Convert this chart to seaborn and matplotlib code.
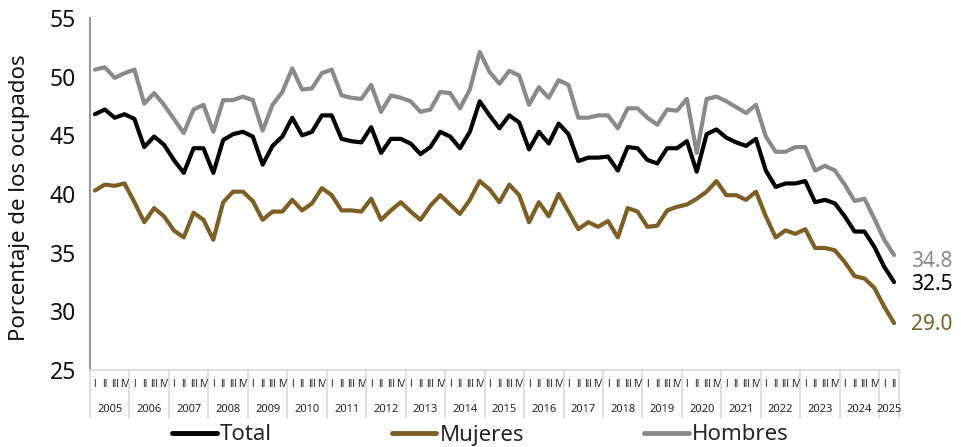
import pandas as pd
import matplotlib
matplotlib.use("Agg")
import matplotlib.pyplot as plt
import matplotlib.transforms as mtransforms
import seaborn as sns

# quarterly series, 2005 Q1 .. 2025 Q2
years = [str(y) for y in range(2005, 2026)]
quarters = ["I", "II", "III", "IV"]

total = [
    46.8, 47.2, 46.5, 46.8, 46.4, 44.0, 44.9, 44.2, 42.9, 41.8,
    43.9, 43.9, 41.8, 44.6, 45.1, 45.3, 44.9, 42.5, 44.1, 44.9,
    46.5, 45.0, 45.3, 46.7, 46.7, 44.7, 44.5, 44.4, 45.7, 43.5,
    44.7, 44.7, 44.3, 43.4, 44.0, 45.3, 44.9, 43.9, 45.3, 47.9,
    46.7, 45.6, 46.7, 46.1, 43.8, 45.3, 44.3, 46.0, 45.1, 42.8,
    43.1, 43.1, 43.2, 42.0, 44.0, 43.9, 42.9, 42.6, 43.9, 43.9,
    44.5, 41.9, 45.1, 45.5, 44.8, 44.4, 44.1, 44.7, 42.0, 40.6,
    40.9, 40.9, 41.1, 39.3, 39.5, 39.2, 38.1, 36.8, 36.8, 35.5,
    33.8, 32.5,
]
mujeres = [
    40.3, 40.8, 40.7, 40.9, 39.3, 37.6, 38.8, 38.1, 36.9, 36.3,
    38.4, 37.8, 36.1, 39.3, 40.2, 40.2, 39.4, 37.8, 38.5, 38.5,
    39.5, 38.6, 39.2, 40.5, 39.9, 38.6, 38.6, 38.5, 39.6, 37.8,
    38.6, 39.3, 38.5, 37.8, 39.0, 39.9, 39.1, 38.3, 39.5, 41.1,
    40.4, 39.3, 40.8, 39.9, 37.6, 39.3, 38.1, 40.0, 38.5, 37.0,
    37.6, 37.2, 37.7, 36.3, 38.8, 38.5, 37.2, 37.3, 38.6, 38.9,
    39.1, 39.6, 40.2, 41.1, 39.9, 39.9, 39.5, 40.2, 38.1, 36.3,
    36.9, 36.6, 37.0, 35.4, 35.4, 35.2, 34.2, 33.0, 32.8, 32.0,
    30.4, 29.0,
]
hombres = [
    50.6, 50.8, 49.9, 50.3, 50.6, 47.7, 48.6, 47.6, 46.4, 45.2,
    47.2, 47.6, 45.3, 48.0, 48.0, 48.3, 48.0, 45.4, 47.6, 48.7,
    50.7, 48.9, 49.0, 50.3, 50.6, 48.4, 48.2, 48.1, 49.3, 47.0,
    48.4, 48.2, 47.9, 47.0, 47.2, 48.7, 48.6, 47.3, 48.9, 52.1,
    50.4, 49.4, 50.5, 50.1, 47.6, 49.1, 48.2, 49.7, 49.3, 46.5,
    46.5, 46.7, 46.7, 45.6, 47.3, 47.3, 46.5, 45.9, 47.2, 47.1,
    48.1, 43.5, 48.1, 48.3, 47.9, 47.4, 46.9, 47.6, 44.9, 43.6,
    43.6, 44.0, 44.0, 42.0, 42.4, 42.0, 40.8, 39.4, 39.6, 37.9,
    36.1, 34.8,
]

series_names = ["Total", "Mujeres", "Hombres"]
colors = {"Total": "#000000", "Mujeres": "#7d5f23", "Hombres": "#8a8a8a"}

n = len(total)
quarter_labels = [quarters[i % 4] for i in range(n)]

df = pd.DataFrame({
    "idx": list(range(n)) * 3,
    "valor": total + mujeres + hombres,
    "serie": ["Total"] * n + ["Mujeres"] * n + ["Hombres"] * n,
})

sns.set_theme(style="white")
plt.rcParams["font.family"] = ["Noto Sans", "DejaVu Sans"]

fig = plt.figure(figsize=(9.61, 4.47), dpi=100)
ax = fig.add_axes([90 / 961, 77 / 447, 809 / 961, 352 / 447])

sns.lineplot(data=df, x="idx", y="valor", hue="serie", hue_order=series_names,
             palette=colors, linewidth=3, ax=ax)

ax.set_xlim(-0.5, n - 0.5)
ax.set_ylim(25, 55)
ax.set_yticks([25, 30, 35, 40, 45, 50, 55])
ax.tick_params(axis="y", labelsize=16.5, length=0, pad=10, labelcolor="#111111")
ax.set_xticks([])
ax.set_xlabel("")
ax.set_ylabel("Porcentaje de los ocupados", fontsize=16, color="#111111")
ax.yaxis.set_label_coords(-60 / 809, 0.49)

for side in ["top", "right"]:
    ax.spines[side].set_visible(False)
ax.spines["left"].set_color("#9a9a9a")
ax.spines["left"].set_linewidth(1.5)
ax.spines["bottom"].set_color("#d9d9d9")
ax.spines["bottom"].set_linewidth(1.2)

# two-level category axis: quarters and years
trans = mtransforms.blended_transform_factory(ax.transData, ax.transAxes)
for i, q in enumerate(quarter_labels):
    ax.text(i, -0.04, q, transform=trans, ha="center", va="center",
            fontsize=7, color="#262626", family="Liberation Sans")
seps = list(range(0, n, 4)) + [n]
for s in seps:
    ax.plot([s - 0.5, s - 0.5], [0, -0.135], transform=trans, color="#d9d9d9",
            linewidth=1.2, clip_on=False)
for k, y in enumerate(years):
    start = k * 4
    end = min(start + 4, n)
    ax.text((start + end - 1) / 2, -0.113, y, transform=trans, ha="center",
            va="center", fontsize=8, color="#262626")

# end labels
last = {"Total": total[-1], "Mujeres": mujeres[-1], "Hombres": hombres[-1]}
offsets = {"Total": -2, "Mujeres": -1, "Hombres": -5}
for name in series_names:
    ax.annotate(f"{last[name]:.1f}", xy=(n - 1, last[name]),
                xytext=(12, offsets[name]), textcoords="offset points",
                ha="left", va="center", fontsize=15, fontweight="bold",
                color=colors[name], annotation_clip=False)

handles, labels = ax.get_legend_handles_labels()
ax.get_legend().remove()
leg = fig.legend(handles, labels, loc="center", bbox_to_anchor=(0.5, 12 / 447),
                 ncol=3, frameon=False, fontsize=16, handlelength=2.0,
                 handletextpad=0.15, columnspacing=5.4)
for line in leg.get_lines():
    line.set_linewidth(3.5)

fig.savefig("out.png", dpi=100)
